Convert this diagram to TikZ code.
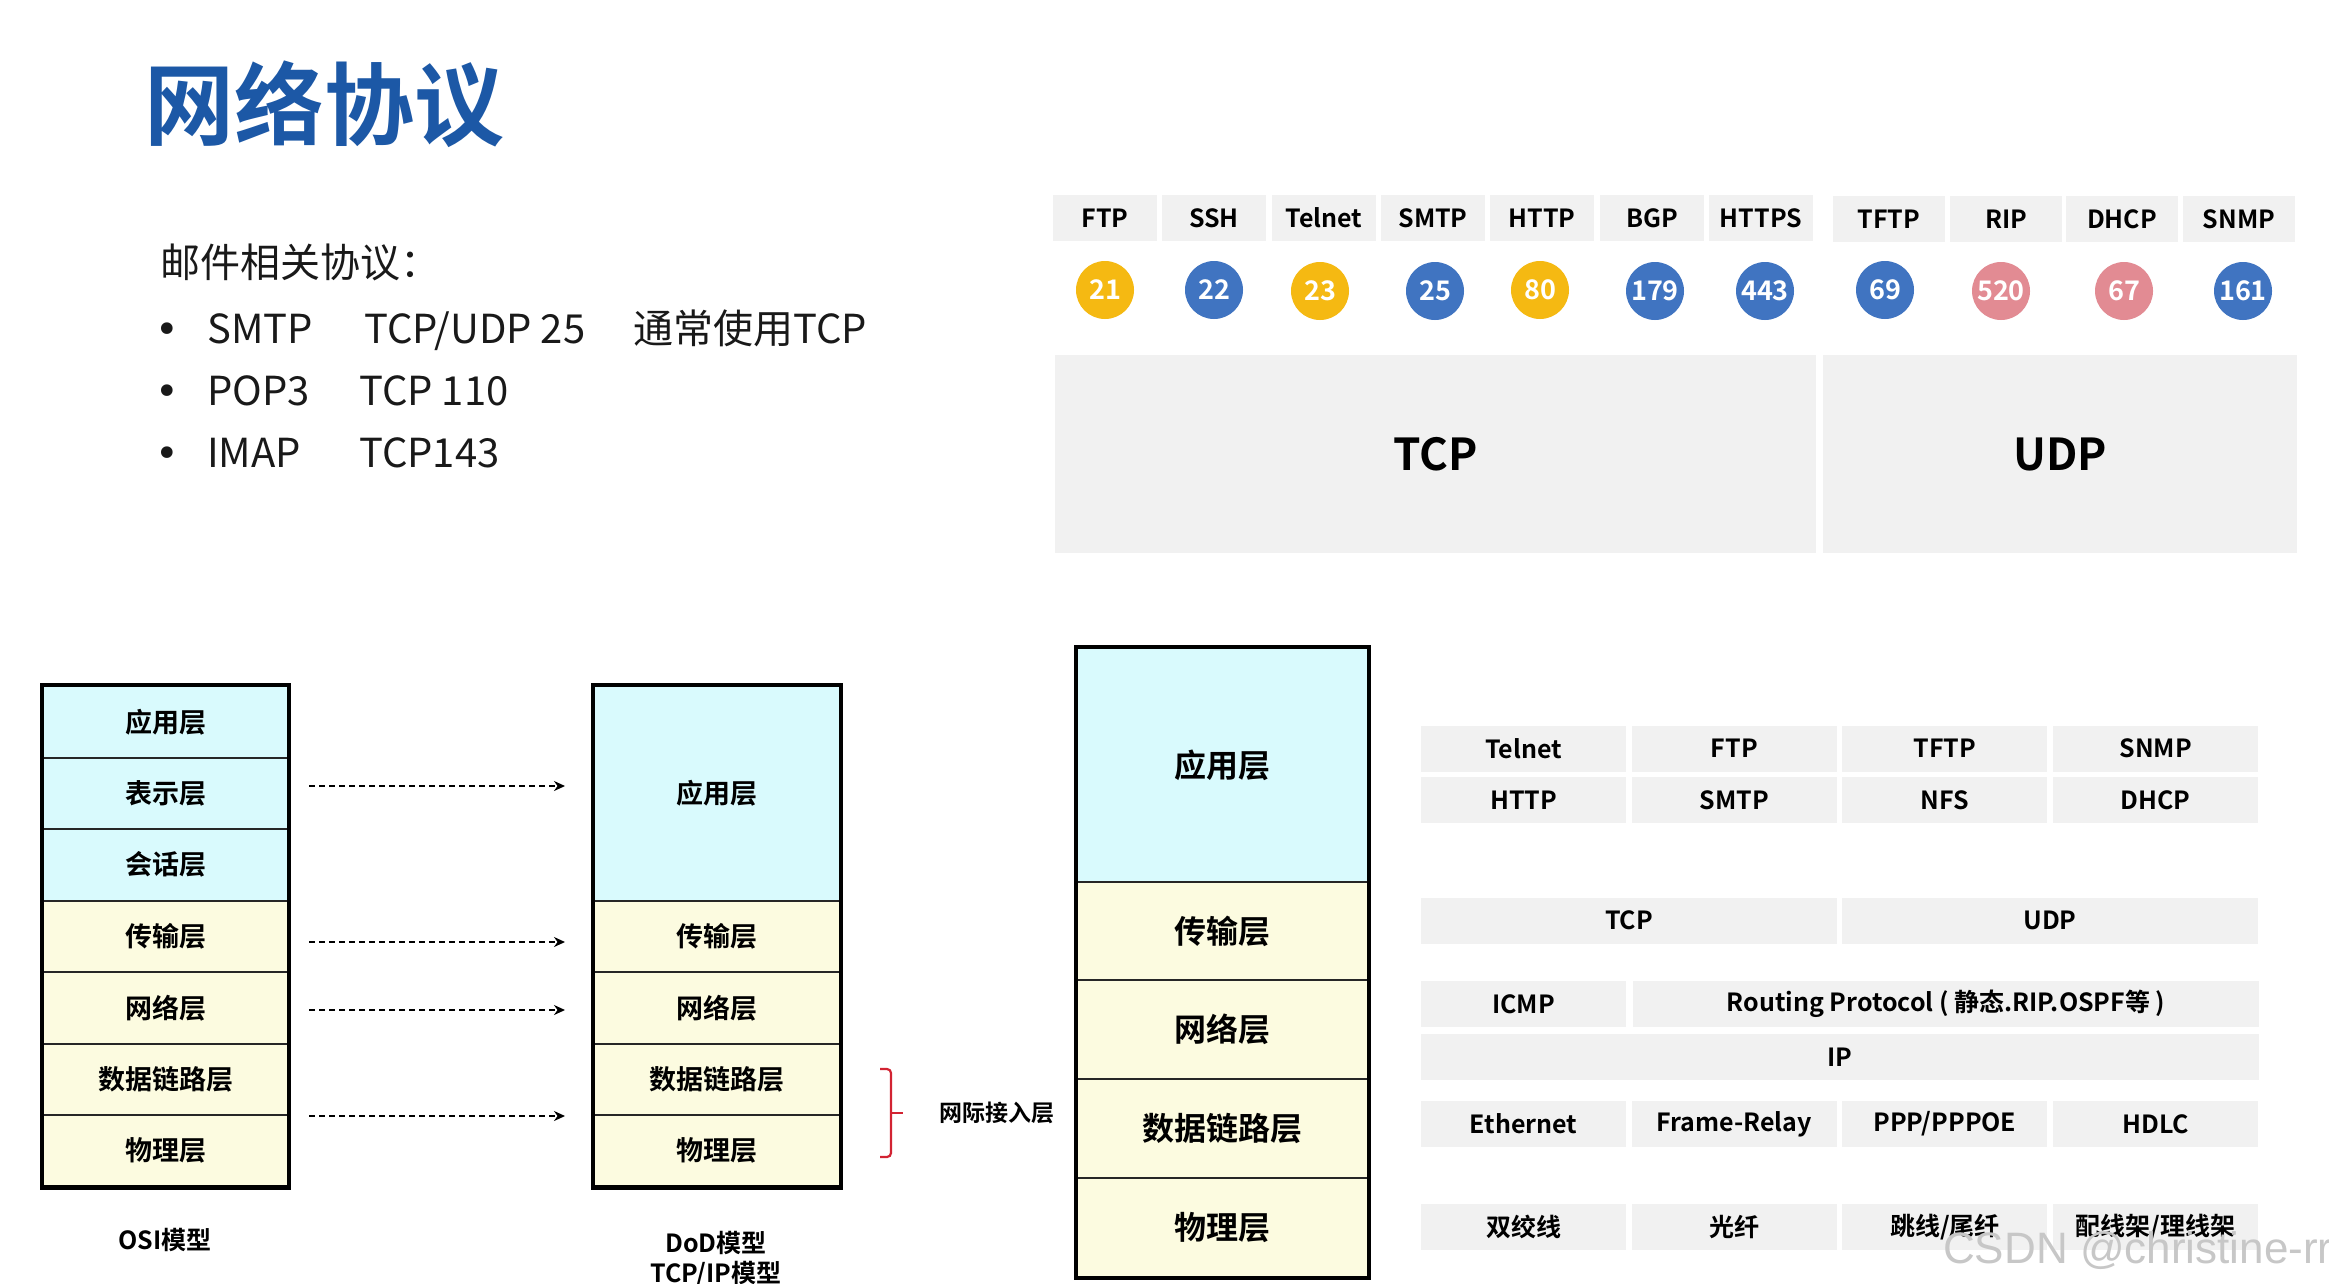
\documentclass[tikz,border=0pt]{standalone}
\usepackage{fontspec}
\setmainfont{Noto Sans CJK SC}[BoldFont={Noto Sans CJK SC Bold}]
\newfontfamily\wmfont{Liberation Sans}
\newfontfamily\bulfont{DejaVu Sans}
\usetikzlibrary{arrows.meta}
\definecolor{titleblue}{RGB}{28,88,166}
\definecolor{cellgray}{RGB}{241,241,241}
\definecolor{ngold}{RGB}{245,185,18}
\definecolor{nblue}{RGB}{64,116,193}
\definecolor{npink}{RGB}{226,139,147}
\definecolor{layercyan}{RGB}{217,250,253}
\definecolor{layeryellow}{RGB}{252,251,224}
\definecolor{bracered}{RGB}{210,35,50}
\definecolor{txtblack}{RGB}{25,25,25}
\newcommand{\myfs}[1]{\fontsize{#1}{#1}\selectfont}
\begin{document}
\begin{tikzpicture}[x=1pt,y=-1pt,
  txt/.style={anchor=base west, inner sep=0pt, text=txtblack, font=\myfs{40}},
  bul/.style={anchor=base, inner sep=0pt, text=txtblack, font=\bulfont\myfs{40}},
  hdr/.style={fill=cellgray, draw=none, inner sep=0pt, minimum height=46pt, text=black, font=\bfseries\myfs{25}},
  port/.style={circle, inner sep=0pt, minimum size=58pt, text=white, font=\bfseries\myfs{27}},
  big/.style={fill=cellgray, draw=none, inner sep=0pt, minimum height=198pt, text=black, font=\bfseries\myfs{44}},
  tcell/.style={fill=cellgray, draw=none, inner sep=0pt, minimum height=46pt, text=black, font=\bfseries\myfs{25}},
  layer/.style={draw=black!85, line width=2pt, inner sep=0pt, text=black, font=\bfseries\myfs{27}},
  biglayer/.style={draw=black!85, line width=2pt, inner sep=0pt, minimum width=291pt, text=black, font=\bfseries\myfs{32}},
  frame/.style={draw=black, line width=4.5pt},
  maparrow/.style={line width=2.2pt, dash pattern=on 6pt off 4pt, -{Stealth[length=11pt,width=10pt]}},
  caption/.style={inner sep=0pt, text=black, font=\bfseries\myfs{25}}
]
\useasboundingbox (0,0) rectangle (2329,1283);
\fill[white] (0,0) rectangle (2329,1283);

% Title
\node[anchor=base west, inner sep=0pt, text=titleblue, font=\bfseries\myfs{90}] (title) at (144,138) {网络协议};

% Mail protocols
\node[txt] (mailhead) at (160,277) {邮件相关协议：};
\node[bul] (b1) at (167,343) {•};
\node[bul] (b2) at (167,405) {•};
\node[bul] (b3) at (167,467) {•};
\node[txt] (smtp) at (207,343) {SMTP};
\node[txt] (smtpport) at (364,343) {TCP/UDP 25};
\node[txt] (smtpnote) at (633,343) {通常使用TCP};
\node[txt] (pop) at (207,405) {POP3};
\node[txt] (popport) at (359,405) {TCP 110};
\node[txt] (imap) at (207,467) {IMAP};
\node[txt] (imapport) at (359,467) {TCP143};

% Port table headers
\foreach \n/\x/\t in {1/1105/FTP,2/1214/SSH,3/1324/Telnet,4/1433/SMTP,5/1542/HTTP,6/1652/BGP,7/1761/HTTPS}
  \node[hdr, minimum width=104pt] (h\n) at (\x,218) {\t};
\foreach \n/\x/\t in {8/1889/TFTP,9/2006/RIP,10/2122/DHCP,11/2239/SNMP}
  \node[hdr, minimum width=112pt] (h\n) at (\x,219) {\t};

% Port numbers
\node[port, fill=ngold] (p1) at (1105,290) {21};
\node[port, fill=nblue] (p2) at (1214,290) {22};
\node[port, fill=ngold] (p3) at (1320,291) {23};
\node[port, fill=nblue] (p4) at (1435,291) {25};
\node[port, fill=ngold] (p5) at (1540,290) {80};
\node[port, fill=nblue] (p6) at (1655,291) {179};
\node[port, fill=nblue] (p7) at (1765,291) {443};
\node[port, fill=nblue] (p8) at (1885,290) {69};
\node[port, fill=npink] (p9) at (2001,291) {520};
\node[port, fill=npink] (p10) at (2124,291) {67};
\node[port, fill=nblue] (p11) at (2243,291) {161};

% TCP / UDP boxes
\node[big, minimum width=761pt] (tcpbox) at (1435.5,454) {TCP};
\node[big, minimum width=474pt] (udpbox) at (2060,454) {UDP};

% OSI model
\foreach \n/\y/\t/\c in {1/721.75/应用层/layercyan,2/793.25/表示层/layercyan,3/864.75/会话层/layercyan,
  4/936.25/传输层/layeryellow,5/1007.75/网络层/layeryellow,6/1079.25/数据链路层/layeryellow,7/1150.75/物理层/layeryellow}
  \node[layer, fill=\c, minimum width=245pt, minimum height=71.5pt] (osi\n) at (165.5,\y) {\t};
\draw[frame] (osi1.north west) rectangle (osi7.south east);
\node[caption] (osicap) at (165,1240) {OSI模型};

% DoD model
\node[layer, fill=layercyan, minimum width=246pt, minimum height=214.5pt] (dod1) at (717,793.25) {应用层};
\foreach \n/\y/\t in {2/936.25/传输层,3/1007.75/网络层,4/1079.25/数据链路层,5/1150.75/物理层}
  \node[layer, fill=layeryellow, minimum width=246pt, minimum height=71.5pt] (dod\n) at (717,\y) {\t};
\draw[frame] (dod1.north west) rectangle (dod5.south east);
\node[caption] (dodcap1) at (716,1243) {DoD模型};
\node[caption] (dodcap2) at (716,1274) {TCP/IP模型};

% mapping arrows
\foreach \n/\y in {1/786,2/942,3/1010,4/1116} {
  \coordinate (as\n) at (309,\y);
  \coordinate (ae\n) at (565,\y);
  \draw[maparrow] (as\n) -- (ae\n);
}

% brace and label
\coordinate (brtop) at (880,1069);
\coordinate (brbot) at (880,1157);
\coordinate (brmid) at (891,1113);
\coordinate (brtip) at (903,1113);
\draw[bracered, line width=2.2pt, rounded corners=4pt] (brtop) -| (brmid) |- (brbot);
\draw[bracered, line width=2.2pt] (brmid) -- (brtip);
\node[inner sep=0pt, text=black, font=\bfseries\myfs{23}] (wjjr) at (997,1113) {网际接入层};

% Right layer column
\node[biglayer, fill=layercyan, minimum height=234pt] (rl1) at (1222.5,765) {应用层};
\node[biglayer, fill=layeryellow, minimum height=98pt] (rl2) at (1222.5,931) {传输层};
\node[biglayer, fill=layeryellow, minimum height=99pt] (rl3) at (1222.5,1029.5) {网络层};
\node[biglayer, fill=layeryellow, minimum height=99pt] (rl4) at (1222.5,1128.5) {数据链路层};
\node[biglayer, fill=layeryellow, minimum height=99pt] (rl5) at (1222.5,1227.5) {物理层};
\draw[frame] (rl1.north west) rectangle (rl5.south east);

% Protocol table
\foreach \n/\x/\t in {1/1523.5/Telnet,2/1734.2/FTP,3/1944.9/TFTP,4/2155.6/SNMP}
  \node[tcell, minimum width=205pt] (ta\n) at (\x,748.5) {\t};
\foreach \n/\x/\t in {1/1523.5/HTTP,2/1734.2/SMTP,3/1944.9/NFS,4/2155.6/DHCP}
  \node[tcell, minimum width=205pt] (tb\n) at (\x,800) {\t};
\node[tcell, minimum width=416pt] (ttcp) at (1629,920.5) {TCP};
\node[tcell, minimum width=416pt] (tudp) at (2050,920.5) {UDP};
\node[tcell, minimum width=205pt] (ticmp) at (1523.5,1004) {ICMP};
\node[tcell, minimum width=626pt] (troute) at (1946,1004) {Routing Protocol ( 静态.RIP.OSPF等 )};
\node[tcell, minimum width=838pt] (tip) at (1840,1057) {IP};
\foreach \n/\x/\t in {1/1523.5/Ethernet,2/1734.2/Frame-Relay,3/1944.9/PPP\slash PPPOE,4/2155.6/HDLC}
  \node[tcell, minimum width=205pt] (td\n) at (\x,1124) {\t};
\foreach \n/\x/\t in {1/1523.5/双绞线,2/1734.2/光纤,3/1944.9/跳线\slash 尾纤,4/2155.6/配线架\slash 理线架}
  \node[tcell, minimum width=205pt] (te\n) at (\x,1227) {\t};

% watermark
\node[anchor=base west, inner sep=0pt, text=black!22, font=\wmfont\myfs{44}] (wm) at (1943,1263) {CSDN @christine-rr};
\end{tikzpicture}
\end{document}
